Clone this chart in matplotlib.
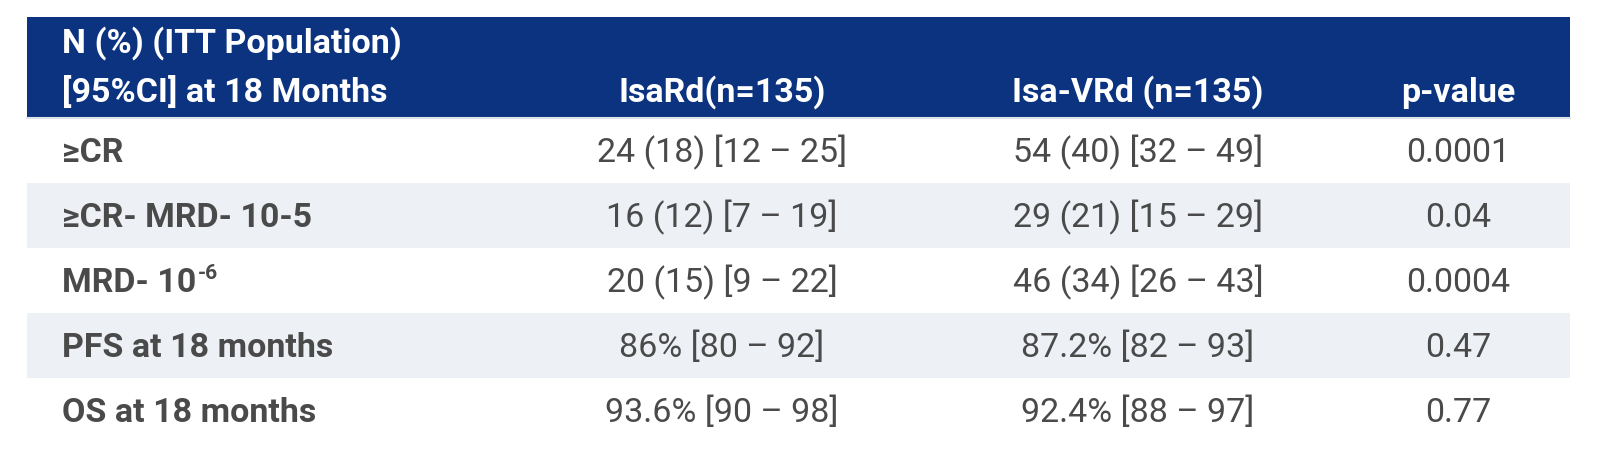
import matplotlib
matplotlib.use('Agg')
import matplotlib.pyplot as plt
from matplotlib.patches import Rectangle

# table content
header_left = ['N (%) (ITT Population)', '[95%CI] at 18 Months']
col_headers = ['IsaRd(n=135)', 'Isa-VRd (n=135)', 'p-value']
row_labels = ['≥CR', '≥CR- MRD- 10-5', 'MRD- 10', 'PFS at 18 months', 'OS at 18 months']
row_sup = ['', '', '-6', '', '']
isard = ['24 (18) [12 – 25]', '16 (12) [7 – 19]', '20 (15) [9 – 22]',
         '86% [80 – 92]', '93.6% [90 – 98]']
isavrd = ['54 (40) [32 – 49]', '29 (21) [15 – 29]', '46 (34) [26 – 43]',
          '87.2% [82 – 93]', '92.4% [88 – 97]']
pvals = ['0.0001', '0.04', '0.0004', '0.47', '0.77']

# layout (pixels)
W, H = 1604, 450
left, right, top = 27, 1570, 17
head_h, row_h = 100, 65
label_x = 62
col_x = [722, 1138, 1458]

navy = '#0b3380'
band = '#edf0f5'
txt = '#4a4a4a'
fam = ['Roboto', 'DejaVu Sans']
fs = 24.5

fig = plt.figure(figsize=(W / 100, H / 100), dpi=100)
ax = fig.add_axes([0, 0, 1, 1])
ax.set_xlim(0, W)
ax.set_ylim(H, 0)
ax.axis('off')

# header
ax.add_patch(Rectangle((left, top), right - left, head_h, color=navy, lw=0))
ax.text(label_x, top + 36, header_left[0], color='white', fontsize=fs,
        fontweight='bold', family=fam, va='baseline')
ax.text(label_x, top + 85, header_left[1], color='white', fontsize=fs,
        fontweight='bold', family=fam, va='baseline')
for x, h in zip(col_x, col_headers):
    ax.text(x, top + 85, h, color='white', fontsize=fs, fontweight='bold',
            family=fam, va='baseline', ha='center')
ax.plot([left, right], [top + head_h + 1, top + head_h + 1], color='#dde2ea', lw=1.5)

fig.canvas.draw()
renderer = fig.canvas.get_renderer()

y0 = top + head_h + 1
for i in range(len(row_labels)):
    ry = y0 + i * row_h
    if i % 2 == 1:
        ax.add_patch(Rectangle((left, ry), right - left, row_h, color=band, lw=0))
    base = ry + 44
    t = ax.text(label_x, base, row_labels[i], color=txt, fontsize=fs,
                fontweight='bold', family=fam, va='baseline')
    if row_sup[i]:
        bb = t.get_window_extent(renderer=renderer)
        ax.text(bb.x1 + 2, base - 13, row_sup[i], color=txt, fontsize=fs * 0.62,
                fontweight='bold', family=fam, va='baseline')
    for x, v in zip(col_x, [isard[i], isavrd[i], pvals[i]]):
        ax.text(x, base, v, color=txt, fontsize=fs, family=fam,
                va='baseline', ha='center')

fig.savefig('out.png', dpi=100, facecolor='white')
